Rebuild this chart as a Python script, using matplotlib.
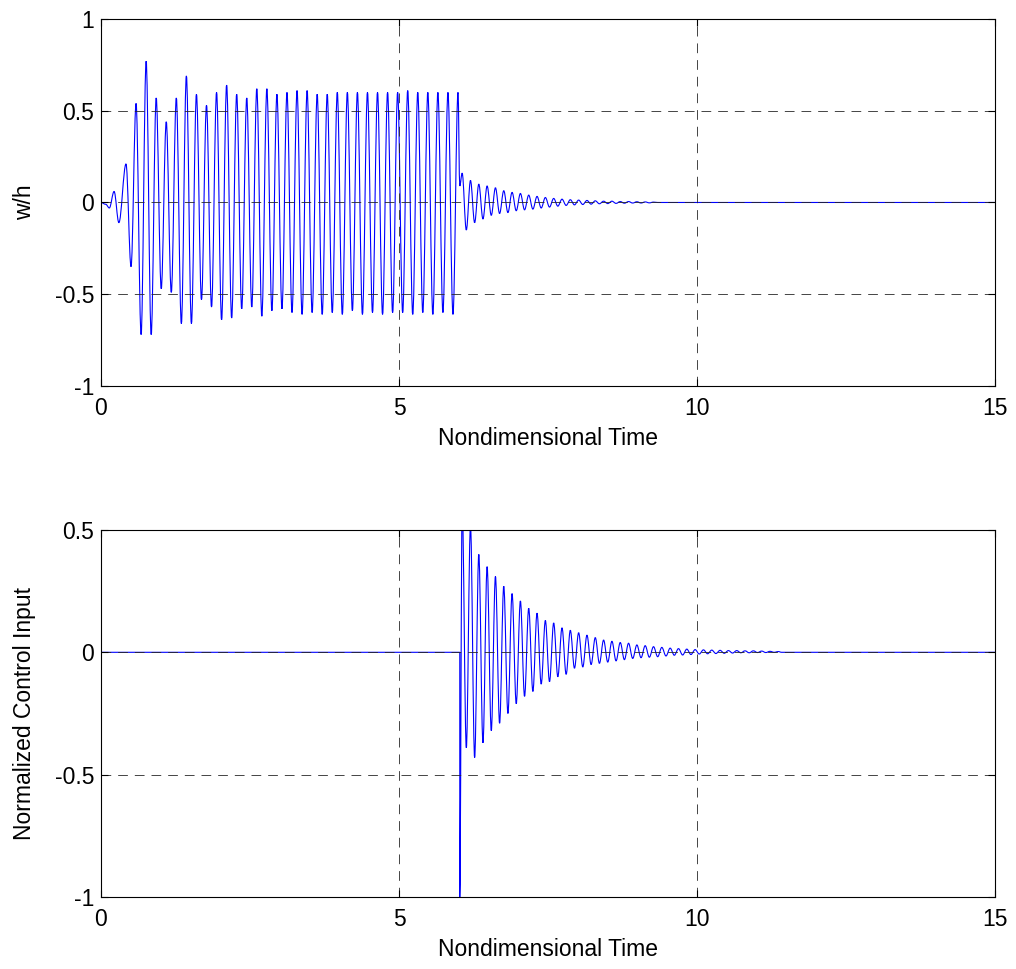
import numpy as np
import matplotlib.pyplot as plt
from matplotlib.path import Path
from matplotlib.patches import PathPatch

plt.rcParams['font.family'] = ['Liberation Sans', 'DejaVu Sans']
plt.rcParams['axes.unicode_minus'] = False
plt.rcParams['lines.scale_dashes'] = False

# ---- upper plot: w/h ----
# small wiggle at the start
w_start_t = [0.0, 0.08, 0.14, 0.22, 0.30]
w_start_v = [0.0, -0.01, -0.03, 0.06, -0.11]

# limit cycle, alternating peaks / troughs, first at t0, one every dt
w_cycle_t0 = 0.42
w_cycle_dt = 0.0844
w_cycle_v = [0.21, -0.35, 0.54, -0.72, 0.77, -0.72, 0.57, -0.47, 0.44, -0.49,
             0.57, -0.66, 0.69, -0.66, 0.59, -0.53, 0.53, -0.57, 0.60, -0.64,
             0.64, -0.63, 0.59, -0.58, 0.57, -0.57, 0.62, -0.62, 0.62, -0.59,
             0.59, -0.58, 0.60, -0.60, 0.61, -0.61, 0.61, -0.60, 0.59, -0.61,
             0.59, -0.60, 0.60, -0.61, 0.60, -0.59, 0.60, -0.61, 0.60, -0.60,
             0.60, -0.61, 0.60, -0.60, 0.60, -0.60, 0.61, -0.61, 0.60, -0.60,
             0.60, -0.61, 0.60, -0.60, 0.60, -0.61, 0.60]

# control switched on -> decay
w_switch_t = [6.02]
w_switch_v = [0.09]
w_decay_t0 = 6.06
w_decay_dt = 0.0698
w_decay_v = [0.16, -0.15, 0.12, -0.11, 0.10, -0.09, 0.09, -0.07, 0.08, -0.06,
             0.064, -0.055, 0.055, -0.045, 0.049, -0.04, 0.04, -0.036, 0.033, -0.03,
             0.027, -0.025, 0.022, -0.02, 0.018, -0.016, 0.015, -0.013, 0.013, -0.011,
             0.011, -0.009, 0.009, -0.007, 0.007, -0.006, 0.007, -0.005, 0.005, -0.004,
             0.005, -0.003, 0.004, -0.003, 0.003, -0.002, 0.002, 0.0]
w_end_t = [15.0]
w_end_v = [0.0]

# ---- lower plot: control input ----
u_off_t = [0.0, 6.02, 6.02]
u_off_v = [0.0, 0.0, -1.0]
u_decay_t0 = 6.06
u_decay_dt = 0.0698
u_decay_v = [0.60, -0.39, 0.52, -0.43, 0.40, -0.37, 0.35, -0.32, 0.31, -0.29,
             0.27, -0.25, 0.24, -0.21, 0.21, -0.18, 0.18, -0.16, 0.16, -0.13,
             0.13, -0.12, 0.12, -0.10, 0.10, -0.09, 0.09, -0.065, 0.08, -0.06,
             0.07, -0.05, 0.06, -0.045, 0.05, -0.04, 0.045, -0.035, 0.04, -0.03,
             0.037, -0.025, 0.03, -0.022, 0.027, -0.02, 0.023, -0.018, 0.02, -0.015,
             0.017, -0.012, 0.015, -0.011, 0.013, -0.009, 0.011, -0.007, 0.010, -0.006,
             0.009, -0.005, 0.008, -0.004, 0.007, -0.003, 0.007, -0.002, 0.006, -0.002,
             0.006, -0.001, 0.005, -0.001, 0.004, 0.0, 0.003]
u_end_t = [11.42, 15.0]
u_end_v = [0.0, 0.0]

x_ticks = [0, 5, 10, 15]
w_ticks = [-1, -0.5, 0, 0.5, 1]
u_ticks = [-1, -0.5, 0, 0.5]
FS = 16.5


def peaks_time(t0, dt, vals):
    return t0 + dt * np.arange(len(vals))


t_w = np.concatenate([w_start_t, peaks_time(w_cycle_t0, w_cycle_dt, w_cycle_v),
                      w_switch_t, peaks_time(w_decay_t0, w_decay_dt, w_decay_v), w_end_t])
y_w = np.concatenate([w_start_v, w_cycle_v, w_switch_v, w_decay_v, w_end_v])

t_u = np.concatenate([u_off_t, peaks_time(u_decay_t0, u_decay_dt, u_decay_v), u_end_t])
y_u = np.concatenate([u_off_v, u_decay_v, u_end_v])


def swing_path(t, y):
    # smooth swing between turning points: cubic bezier, flat at each extremum
    verts = [(t[0], y[0])]
    codes = [Path.MOVETO]
    for i in range(1, len(t)):
        h = 0.36 * (t[i] - t[i - 1])
        verts += [(t[i - 1] + h, y[i - 1]), (t[i] - h, y[i]), (t[i], y[i])]
        codes += [Path.CURVE4] * 3
    return Path(verts, codes)


fig = plt.figure(figsize=(10.16, 9.69), dpi=100)
ax1 = fig.add_axes([0.0994, 0.6017, 0.8799, 0.3787])
ax2 = fig.add_axes([0.0994, 0.0743, 0.8799, 0.3788])


def style(ax, yticks, ylabel):
    ax.set_xlim(0, 15)
    ax.set_ylim(yticks[0], yticks[-1])
    ax.set_xticks(x_ticks)
    ax.set_yticks(yticks)
    ax.set_xticklabels([f"{v:g}" for v in x_ticks])
    ax.set_yticklabels([f"{v:g}" for v in yticks])
    ax.tick_params(direction='in', top=True, right=True, length=5, width=0.8,
                   labelsize=FS)
    ax.tick_params(axis='x', pad=8)
    ax.tick_params(axis='y', pad=5)
    ax.grid(True, color='0.15', linestyle=(0, (7, 5)), linewidth=0.6)
    for s in ax.spines.values():
        s.set_linewidth(0.8)
    ax.set_xlabel('Nondimensional Time', fontsize=FS, labelpad=5)
    ax.set_ylabel(ylabel, fontsize=FS, labelpad=13)


ax1.add_patch(PathPatch(swing_path(t_w, y_w), fill=False, edgecolor='#0000ff', lw=0.8))
style(ax1, w_ticks, 'w/h')

ax2.add_patch(PathPatch(swing_path(t_u, y_u), fill=False, edgecolor='#0000ff', lw=0.8))
style(ax2, u_ticks, 'Normalized Control Input')

fig.savefig('out.png', dpi=100)
